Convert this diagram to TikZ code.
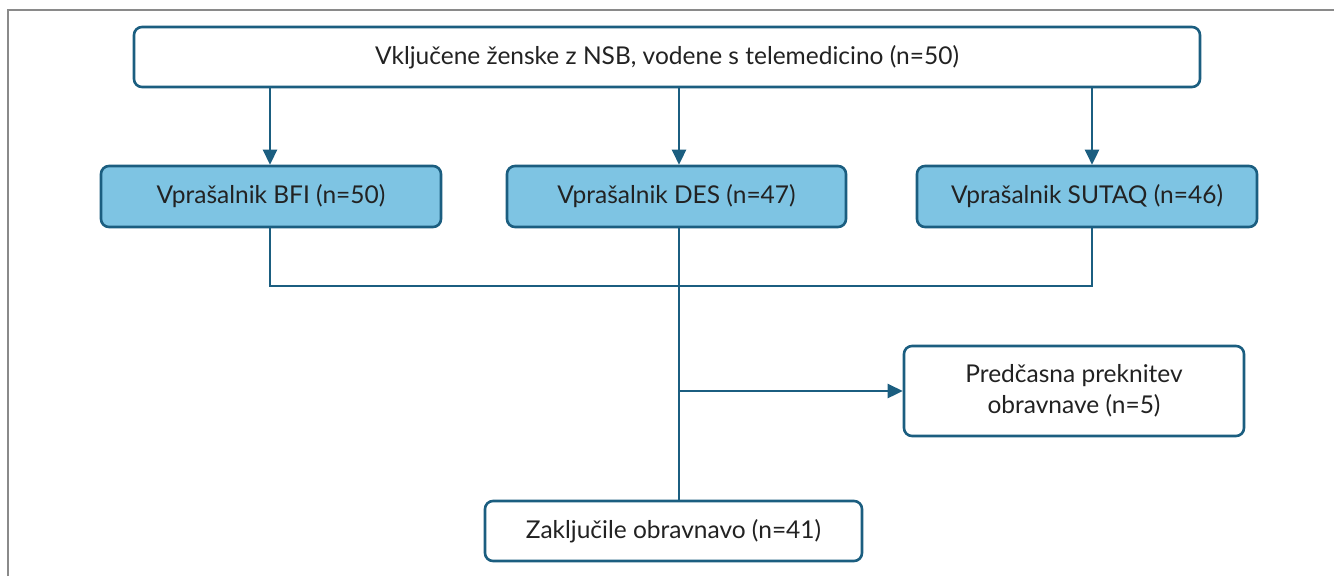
\documentclass[tikz,border=0pt]{standalone}
\usepackage{fontspec}
\setmainfont{Lato}
\usetikzlibrary{arrows.meta}
\definecolor{edge}{HTML}{1B5E80}
\definecolor{fillb}{HTML}{7EC4E3}
\definecolor{txt}{HTML}{222222}
\definecolor{frame}{HTML}{8A8A8A}
\tikzset{
  box/.style={draw=edge, line width=2.6pt, rounded corners=8pt, text=txt, font=\fontsize{24.5}{31}\selectfont, align=center, inner sep=0pt},
  wbox/.style={box, fill=white},
  bbox/.style={box, fill=fillb},
  conn/.style={draw=edge, line width=2.6pt},
  arr/.style={conn, -{Triangle[length=15pt,width=14pt]}},
}
\begin{document}
\begin{tikzpicture}[x=1pt,y=-1pt]
\useasboundingbox (0,0) rectangle (1334,576);
\draw[frame, line width=2pt] (8,576) -- (8,10) -- (1334,10);
\node[wbox, minimum width=1066pt, minimum height=60pt] (top) at (667,57) {Vključene ženske z NSB, vodene s telemedicino (n=50)};
\node[bbox, minimum width=340pt, minimum height=61pt] (bfi) at (271,196.5) {Vprašalnik BFI (n=50)};
\node[bbox, minimum width=339pt, minimum height=61pt] (des) at (676.5,196.5) {Vprašalnik DES (n=47)};
\node[bbox, minimum width=340pt, minimum height=61pt] (sut) at (1087,196.5) {Vprašalnik SUTAQ (n=46)};
\node[wbox, minimum width=340pt, minimum height=90pt] (pre) at (1074,391) {Predčasna preknitev\\obravnave (n=5)};
\node[wbox, minimum width=377pt, minimum height=60pt] (zak) at (673.5,531) {Zaključile obravnavo (n=41)};
\coordinate (jl) at (270,286);
\coordinate (jm) at (679,286);
\coordinate (jr) at (1092,286);
\coordinate (br) at (679,391);
\draw[arr] (top.south -| jl) -- (bfi.north -| jl);
\draw[arr] (top.south -| jm) -- (des.north -| jm);
\draw[arr] (top.south -| jr) -- (sut.north -| jr);
\draw[conn] (bfi.south -| jl) -- (jl) -- (jr) -- (sut.south -| jr);
\draw[conn] (des.south -| jm) -- (zak.north -| jm);
\draw[arr] (br) -- (pre.west);
\end{tikzpicture}
\end{document}
